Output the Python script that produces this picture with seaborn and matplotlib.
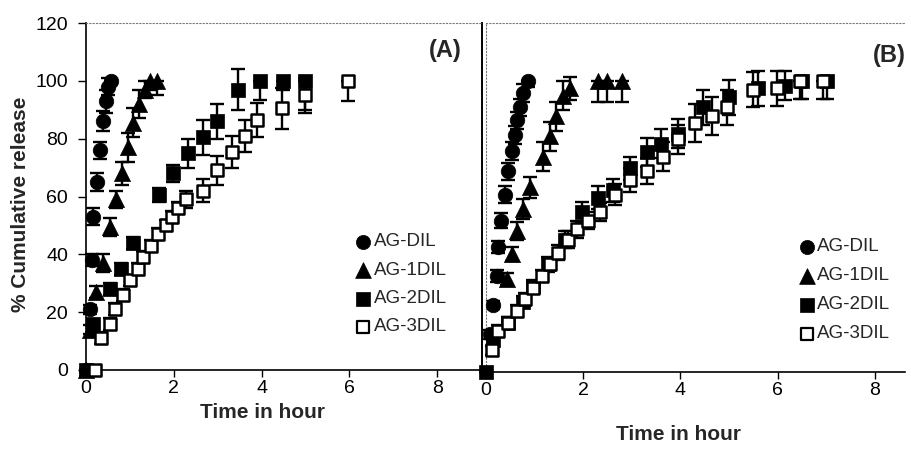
import numpy as np
import pandas as pd
import matplotlib
matplotlib.use("Agg")
import matplotlib.pyplot as plt
import seaborn as sns

sns.set_theme(style="white")
plt.rcParams['font.family'] = ['Liberation Sans', 'DejaVu Sans']

# ---------------- data : panel A ----------------
a_dil_t = [0, 0.08, 0.13, 0.17, 0.25, 0.32, 0.38, 0.45, 0.5, 0.58]
a_dil_y = [0, 21, 38, 53, 65, 76, 86, 93, 98, 100]
a_dil_e = [0, 1.5, 2, 3, 3, 3, 3.5, 4, 3, 1]

a_1dil_t = [0, 0.1, 0.23, 0.39, 0.55, 0.68, 0.81, 0.96, 1.08, 1.21, 1.34, 1.46, 1.61]
a_1dil_y = [0, 14, 27, 37, 49.5, 59, 68, 77, 85.5, 92, 97, 100, 100]
a_1dil_e = [0, 1.5, 2, 3, 3, 3, 4, 5, 5, 5, 3, 3, 5]

a_2dil_t = [0, 0.16, 0.54, 0.8, 1.07, 1.67, 1.99, 2.32, 2.66, 2.98, 3.47, 3.96, 4.49, 4.99]
a_2dil_y = [0, 16, 28, 35, 44, 60.5, 68, 75, 80.5, 86, 97, 100, 100, 100]
a_2dil_e = [0, 1.5, 2, 2, 2, 2.5, 3, 5, 6, 6, 7, 6.5, 3, 10]

a_3dil_t = [0.2, 0.35, 0.54, 0.65, 0.84, 1.0, 1.18, 1.3, 1.49, 1.64, 1.83, 1.95, 2.1,
            2.28, 2.67, 2.98, 3.32, 3.62, 3.89, 4.46, 4.99, 5.97]
a_3dil_y = [0, 11, 16, 21, 26, 31, 35, 39, 43, 47, 50, 53, 56, 59, 62, 69, 75.5, 81,
            86.5, 90.5, 95, 100]
a_3dil_e = [0, 2, 2, 2, 2, 2, 2, 2, 2, 2, 2, 2, 2, 3, 4, 5, 5.5, 5.5, 6, 7, 6, 7]

# ---------------- data : panel B ----------------
b_dil_t = [0.08, 0.15, 0.22, 0.25, 0.3, 0.39, 0.46, 0.53, 0.6, 0.63, 0.7, 0.77, 0.87]
b_dil_y = [13, 23, 33, 43, 52, 61, 69, 76, 81.5, 86.5, 91, 96, 100]
b_dil_e = [1.5, 1.5, 2, 2, 2.5, 3, 3, 3, 3, 3, 3, 3, 2]

b_1dil_t = [0.43, 0.53, 0.63, 0.77, 0.9, 1.18, 1.32, 1.45, 1.59, 1.73, 2.31, 2.48, 2.79]
b_1dil_y = [32, 40.5, 48.5, 56, 63.5, 74, 81, 88, 95, 97.5, 100, 100, 100]
b_1dil_e = [2, 2.5, 3, 3.5, 3.5, 5, 5, 5, 5, 4, 7, 7, 7]

b_2dil_t = [0, 0.15, 0.46, 0.77, 0.97, 1.28, 1.63, 1.97, 2.31, 2.62, 2.96, 3.31, 3.61,
            3.96, 4.47, 4.99, 5.6, 6.15, 6.5, 7.01]
b_2dil_y = [0, 11, 17, 24, 29.5, 37, 45.5, 55, 60, 62.5, 70, 75.5, 78.5, 82, 91, 94.5,
            97.5, 98.5, 100, 100]
b_2dil_e = [0, 1.5, 2, 2, 2, 2.5, 3, 3.5, 4, 4, 4, 5, 5, 5, 6, 6, 6, 5, 6, 6]

b_3dil_t = [0.12, 0.25, 0.45, 0.63, 0.8, 0.97, 1.15, 1.32, 1.49, 1.69, 1.87, 2.1, 2.35,
            2.65, 2.96, 3.31, 3.65, 3.96, 4.3, 4.64, 4.95, 5.5, 5.98, 6.46, 6.94]
b_3dil_y = [7.5, 14, 17, 21, 25, 29, 33, 37, 41, 45.5, 49, 52, 55, 61, 66, 69, 74, 80,
            85.5, 88, 91, 97, 97.5, 100, 100]
b_3dil_e = [1.5, 2, 2, 2, 2, 2, 2, 2, 2.5, 3, 3, 3, 3, 3.5, 4, 4.5, 5, 5, 6.5, 6.5, 6, 6,
            6, 6, 6]

series_names = ["AG-DIL", "AG-1DIL", "AG-2DIL", "AG-3DIL"]
markers = ["o", "^", "s", "s"]
faces = ["black", "black", "black", "white"]
sizes = [110, 135, 95, 85]

panel_a = [(a_dil_t, a_dil_y, a_dil_e), (a_1dil_t, a_1dil_y, a_1dil_e),
           (a_2dil_t, a_2dil_y, a_2dil_e), (a_3dil_t, a_3dil_y, a_3dil_e)]
panel_b = [(b_dil_t, b_dil_y, b_dil_e), (b_1dil_t, b_1dil_y, b_1dil_e),
           (b_2dil_t, b_2dil_y, b_2dil_e), (b_3dil_t, b_3dil_y, b_3dil_e)]

W, H = 911, 449
fig = plt.figure(figsize=(W / 100, H / 100), dpi=100)
axA = fig.add_axes([86 / W, (H - 370) / H, 396 / W, 347 / H])
axB = fig.add_axes([486 / W, (H - 372) / H, 419 / W, 349 / H])


def draw(ax, panel):
    for (t, y, e), name, m, fc, s in zip(panel, series_names, markers, faces, sizes):
        t = np.asarray(t, float)
        y = np.asarray(y, float)
        e = np.asarray(e, float)
        up = np.where(y >= 99.5, 0, e)
        ax.errorbar(t, y, yerr=[e, up], fmt="none", ecolor="black", elinewidth=1.7,
                    capsize=5, capthick=1.7, zorder=2, clip_on=False)
        df = pd.DataFrame({"t": t, "y": y})
        sns.scatterplot(data=df, x="t", y="y", ax=ax, marker=m, s=s, color=fc,
                        edgecolor="black", linewidth=1.8 if fc == "white" else 0.5,
                        zorder=3, clip_on=False, legend=False)


draw(axA, panel_a)
draw(axB, panel_b)

for ax in (axA, axB):
    ax.set_ylim(0, 120)
    ax.set_xticks([0, 2, 4, 6, 8])
    ax.set_xlabel("")
    ax.set_ylabel("")
    ax.tick_params(axis="x", direction="out", length=5, width=1, labelsize=14,
                   bottom=True, pad=2, colors="black")
    ax.spines["bottom"].set_color("black")
    ax.spines["bottom"].set_linewidth(1.2)
    ax.spines["top"].set_color("#777777")
    ax.spines["top"].set_linestyle((0, (1, 2)))
    ax.spines["top"].set_linewidth(0.8)
    ax.grid(False)

axA.set_xlim(0, 9.02)
axB.set_xlim(0, 8.62)

axA.set_yticks([0, 20, 40, 60, 80, 100, 120])
axA.tick_params(axis="y", direction="out", length=6, width=1, labelsize=14, left=True,
                pad=7, colors="black")
axA.spines["left"].set_color("black")
axA.spines["left"].set_linewidth(1.2)
axA.spines["right"].set_color("black")
axA.spines["right"].set_linewidth(1.4)

axB.set_yticks([])
axB.spines["left"].set_color("#777777")
axB.spines["left"].set_linestyle((0, (1, 2)))
axB.spines["left"].set_linewidth(0.8)
axB.spines["right"].set_visible(False)

axA.set_xlabel("Time in hour", fontsize=15, fontweight="bold")
axB.set_xlabel("Time in hour", fontsize=15, fontweight="bold")
axA.xaxis.set_label_coords((262 - 86) / 396, -(412 - 370) / 347)
axB.xaxis.set_label_coords((679 - 486) / 419, -(434 - 372) / 349)
axA.xaxis.label.set_va("center")
axB.xaxis.label.set_va("center")
axA.set_ylabel("% Cumulative release", fontsize=15, fontweight="bold")
axA.yaxis.set_label_coords((21 - 86) / 396, (370 - 204) / 347)
axA.yaxis.label.set_va("center")

axA.text(0.907, 0.922, "(A)", transform=axA.transAxes, ha="center", va="center",
         fontsize=17, fontweight="bold")
axB.text(0.962, 0.908, "(B)", transform=axB.transAxes, ha="center", va="center",
         fontsize=17, fontweight="bold")


def legend(ax, xm, y0, dy, xt):
    for i, (name, m, fc, s) in enumerate(zip(series_names, markers, faces, sizes)):
        yy = y0 - i * dy
        ax.scatter([xm], [yy], transform=ax.transAxes, marker=m, s=s * 0.95, c=fc,
                   edgecolors="black", linewidths=1.6 if fc == "white" else 0.5,
                   clip_on=False, zorder=5)
        ax.text(xt, yy, name, transform=ax.transAxes, ha="left", va="center",
                fontsize=13.5)


legend(axA, 0.70, 0.369, 0.0816, 0.728)
legend(axB, 0.765, 0.359, 0.083, 0.790)

fig.savefig("out.png", dpi=100)
